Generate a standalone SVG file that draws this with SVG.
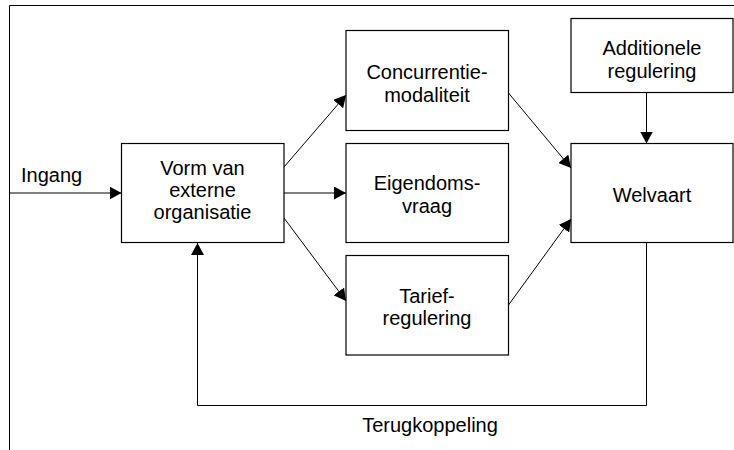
<svg xmlns="http://www.w3.org/2000/svg" width="734" height="450" viewBox="0 0 734 450">
<style>
.box{fill:#fff;stroke:#000;stroke-width:1.2}
.ln{fill:none;stroke:#000;stroke-width:1}
text{font-family:"Liberation Sans",Arial,sans-serif;font-size:20px;fill:#000}
.c{text-anchor:middle}
</style>
<defs>
<marker id="arr" markerUnits="userSpaceOnUse" markerWidth="13" markerHeight="13" refX="12" refY="6.5" orient="auto" viewBox="0 0 13 13">
<path d="M0,0 L12,6.5 L0,13 z" fill="#000"/>
</marker>
</defs>
<g id="frame">
<path class="ln" d="M9.5,450 V5.5 H734" stroke="#222"/>
</g>
<g id="connectors">
<line class="ln" x1="9.5" y1="193" x2="121.5" y2="193" marker-end="url(#arr)"/>
<line class="ln" x1="284" y1="167" x2="346" y2="95" marker-end="url(#arr)"/>
<line class="ln" x1="284" y1="193" x2="346" y2="193" marker-end="url(#arr)"/>
<line class="ln" x1="284" y1="218" x2="346" y2="301" marker-end="url(#arr)"/>
<line class="ln" x1="508.5" y1="93" x2="571" y2="168" marker-end="url(#arr)"/>
<line class="ln" x1="508.5" y1="305" x2="571" y2="219" marker-end="url(#arr)"/>
<line class="ln" x1="646.5" y1="92.5" x2="646.5" y2="143.5" marker-end="url(#arr)"/>
<path class="ln" d="M646.5,242.5 V405.5 H197.5 V243" marker-end="url(#arr)"/>
</g>
<g id="n-ingang"><text x="21" y="182">Ingang</text></g>
<g id="n-vorm">
<rect class="box" x="121.5" y="143.5" width="162.5" height="99"/>
<text class="c" x="202.5" y="175">Vorm van</text>
<text class="c" x="202.5" y="197">externe</text>
<text class="c" x="202.5" y="219">organisatie</text>
</g>
<g id="n-concurrentie">
<rect class="box" x="346" y="30.5" width="162.5" height="100"/>
<text class="c" x="427" y="78.5">Concurrentie-</text>
<text class="c" x="427" y="101.5">modaliteit</text>
</g>
<g id="n-eigendoms">
<rect class="box" x="346" y="143.5" width="162.5" height="99"/>
<text class="c" x="427" y="190">Eigendoms-</text>
<text class="c" x="427" y="213">vraag</text>
</g>
<g id="n-tarief">
<rect class="box" x="346" y="255.5" width="162.5" height="99.5"/>
<text class="c" x="427" y="302.5">Tarief-</text>
<text class="c" x="427" y="325">regulering</text>
</g>
<g id="n-additionele">
<rect class="box" x="571" y="18.5" width="162" height="74"/>
<text class="c" x="652" y="55">Additionele</text>
<text class="c" x="652" y="77.5">regulering</text>
</g>
<g id="n-welvaart">
<rect class="box" x="571" y="143.5" width="162" height="99"/>
<text class="c" x="652" y="201.5">Welvaart</text>
</g>
<g id="n-terugkoppeling"><text class="c" x="430" y="432">Terugkoppeling</text></g>
</svg>
